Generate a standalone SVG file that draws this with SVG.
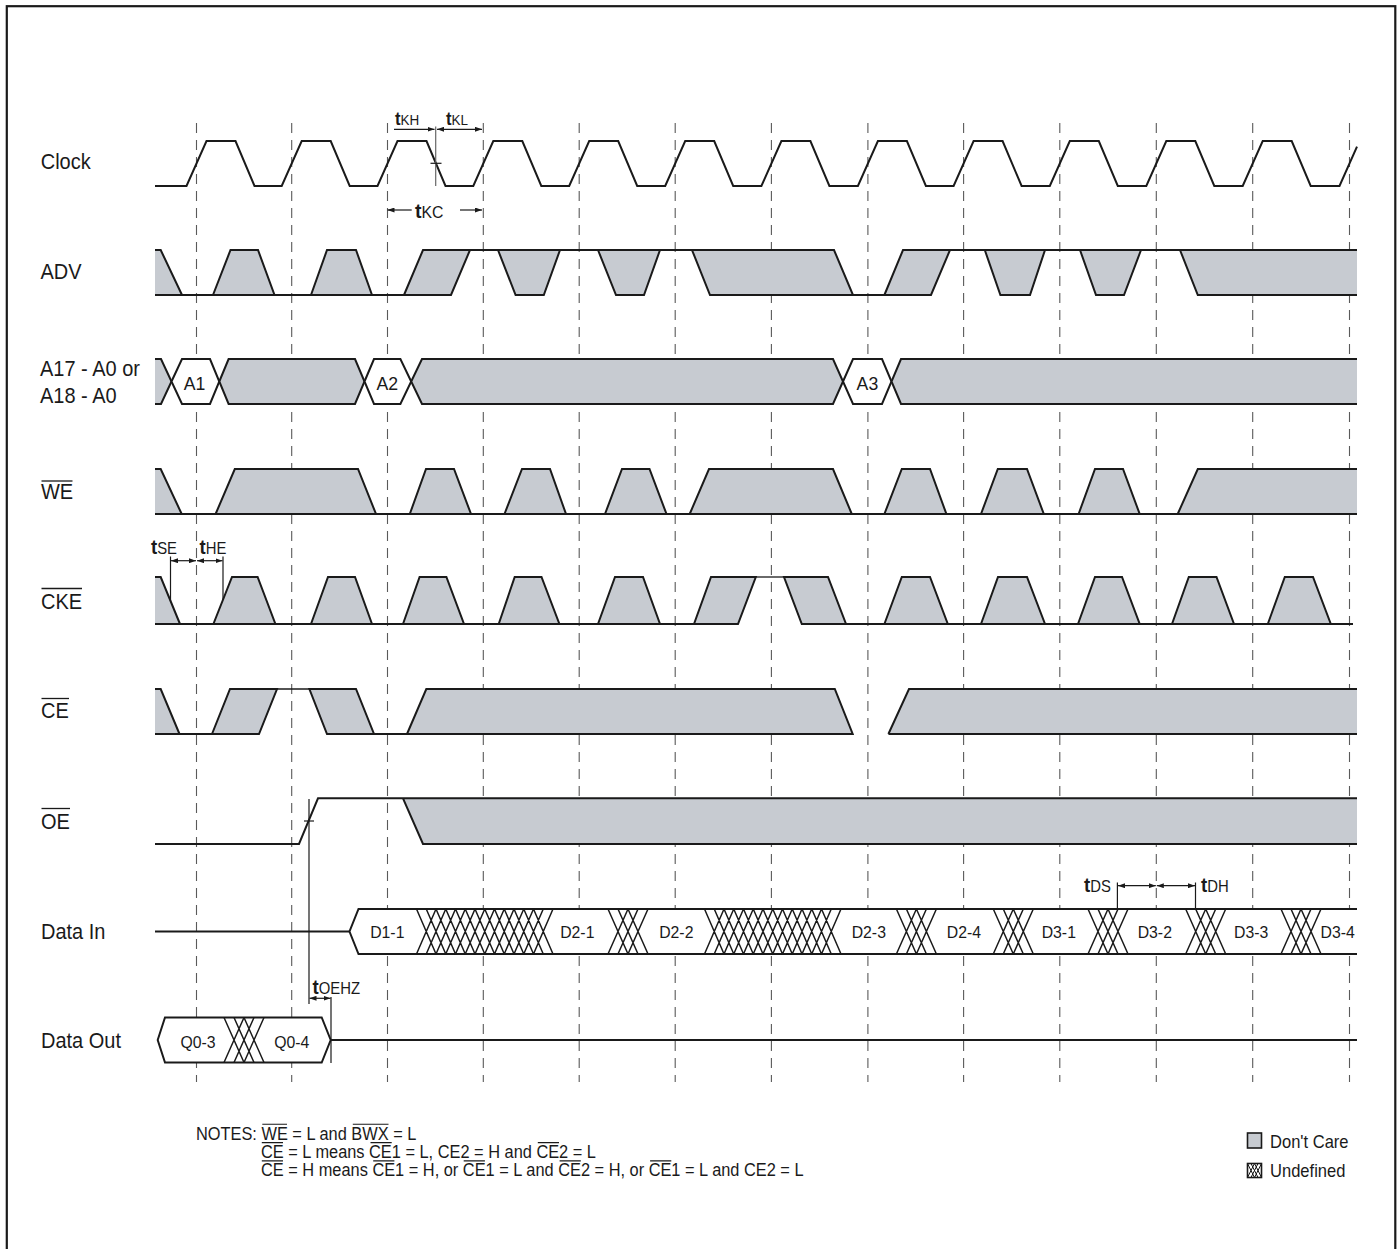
<svg xmlns="http://www.w3.org/2000/svg" width="1399" height="1249" viewBox="0 0 1399 1249">
<style>
.w{fill:none;stroke:#1a1a1a;stroke-width:2}
.wt{fill:none;stroke:#1a1a1a;stroke-width:1.3}
.g{fill:#c7cbd1;stroke:#1a1a1a;stroke-width:2}
.gf{fill:#c7cbd1;stroke:none}
.h{fill:#fff;stroke:#1a1a1a;stroke-width:2}
.x{fill:none;stroke:#1a1a1a;stroke-width:1.5}
.d{stroke:#5a5a5a;stroke-width:1.1;stroke-dasharray:10 7}
.a{stroke:#1a1a1a;stroke-width:1.2;fill:none}
.ag{stroke:#666;stroke-width:1.2;fill:none}
.ad{stroke:#1a1a1a;stroke-width:1.2;fill:none;marker-start:url(#ah);marker-end:url(#ah)}
.ae{stroke:#1a1a1a;stroke-width:1.2;fill:none;marker-end:url(#ah)}
.ol{stroke:#1a1a1a;stroke-width:1.3;fill:none}
.oln{stroke:#1a1a1a;stroke-width:1.1;fill:none}
text{font-family:"Liberation Sans",Arial,Helvetica,sans-serif;fill:#1a1a1a}
.lbl{font-size:21.5px}
.cell{font-size:17px;text-anchor:middle}
.alab{font-size:19px;text-anchor:middle}
.tb{font-weight:bold;font-size:20px}
.ts{font-size:16px}
.tbs{font-weight:bold;font-size:18px}
.tss{font-size:14.5px}
.tbl{font-weight:bold;font-size:21px}
.tsl{font-size:17px}
.note{font-size:17.5px}
.leg{font-size:18px}
</style>
<defs>
<marker id="ah" viewBox="0 0 7 5" refX="7" refY="2.5" markerWidth="7" markerHeight="5" orient="auto-start-reverse" markerUnits="userSpaceOnUse"><path d="M0,0 L7,2.5 L0,5 z" fill="#1a1a1a"/></marker>
<path id="hs" class="x" d="M0,0L20,45M10,0L30,45M20,0L40,45M0,45L20,0M10,45L30,0M20,45L40,0"/>
<path id="hl" class="x" d="M0,0L19.5,45M9.75,0L29.25,45M19.5,0L39,45M29.25,0L48.75,45M39,0L58.5,45M48.75,0L68.25,45M58.5,0L78,45M68.25,0L87.75,45M78,0L97.5,45M87.75,0L107.25,45M97.5,0L117,45M107.25,0L126.75,45M117,0L136.5,45M0,45L19.5,0M9.75,45L29.25,0M19.5,45L39,0M29.25,45L48.75,0M39,45L58.5,0M48.75,45L68.25,0M58.5,45L78,0M68.25,45L87.75,0M78,45L97.5,0M87.75,45L107.25,0M97.5,45L117,0M107.25,45L126.75,0M117,45L136.5,0"/>
</defs>
<rect width="1399" height="1249" fill="#fff"/>
<rect x="6.8" y="6.2" width="1388.5" height="1300" fill="none" stroke="#1a1a1a" stroke-width="2.2"/>

<g id="gridlines">
<line class="d" x1="196.5" y1="123" x2="196.5" y2="1082"/>
<line class="d" x1="291.7" y1="123" x2="291.7" y2="1082"/>
<line class="d" x1="387.5" y1="123" x2="387.5" y2="1082"/>
<line class="d" x1="483.3" y1="123" x2="483.3" y2="1082"/>
<line class="d" x1="579.2" y1="123" x2="579.2" y2="1082"/>
<line class="d" x1="675.2" y1="123" x2="675.2" y2="1082"/>
<line class="d" x1="771.4" y1="123" x2="771.4" y2="1082"/>
<line class="d" x1="867.9" y1="123" x2="867.9" y2="1082"/>
<line class="d" x1="963.6" y1="123" x2="963.6" y2="1082"/>
<line class="d" x1="1059.8" y1="123" x2="1059.8" y2="1082"/>
<line class="d" x1="1156.3" y1="123" x2="1156.3" y2="1082"/>
<line class="d" x1="1252.7" y1="123" x2="1252.7" y2="1082"/>
<line class="d" x1="1349.5" y1="123" x2="1349.5" y2="1082"/>
</g>

<g id="clock">
<text class="lbl" transform="translate(40.7,168.5) scale(0.93,1)">Clock</text>
<path class="w" d="M155,186H186.5L206.5,141H235.5L254.5,186H281.7L301.7,141H330.7L349.7,186H377.5L397.5,141H426.5L445.5,186H473.3L493.3,141H522.3L541.3,186H569.2L589.2,141H618.2L637.2,186H665.2L685.2,141H714.2L733.2,186H761.4L781.4,141H810.4L829.4,186H857.9L877.9,141H906.9L925.9,186H953.6L973.6,141H1002.6L1021.6,186H1049.8L1069.8,141H1098.8L1117.8,186H1146.3L1166.3,141H1195.3L1214.3,186H1242.7L1262.7,141H1291.7L1310.7,186H1339.5L1357,146.6"/>
</g>

<g id="adv">
<text class="lbl" transform="translate(40.5,279) scale(0.93,1)">ADV</text>
<polygon class="gf" points="155,250 160.7,250 182,295 155,295"/>
<polyline class="w" points="155,250 160.7,250 182,295"/>
<polygon class="g" points="213,295 230.5,250 258,250 274.5,295"/>
<polygon class="g" points="311,295 327,250 356,250 372,295"/>
<polygon class="g" points="404,295 423,250 470,250 451,295"/>
<polygon class="g" points="498,250 515.6,295 543.8,295 560,250"/>
<polygon class="g" points="598,250 616,295 644,295 660,250"/>
<polygon class="g" points="692,250 834,250 853,295 710,295"/>
<polygon class="g" points="884.4,295 903,250 950,250 931,295"/>
<polygon class="g" points="984.8,250 1000.4,295 1030,295 1045,250"/>
<polygon class="g" points="1080,250 1096,295 1124,295 1141,250"/>
<polygon class="gf" points="1180,250 1197.8,295 1357,295 1357,250"/>
<path class="w" d="M155,295H451M423,250H834M903,250H1357M710,295H931M1180,250L1197.8,295H1357"/>
</g>

<g id="address">
<text class="lbl" transform="translate(40,375.5) scale(0.93,1)">A17 - A0 or</text>
<text class="lbl" transform="translate(40,403) scale(0.93,1)">A18 - A0</text>
<polygon class="gf" points="155,359 161,359 171.5,381.5 161,404 155,404"/>
<polyline class="w" points="155,359 161,359 171.5,381.5 161,404 155,404"/>
<polygon class="h" points="171.5,381.5 182,359 210,359 219.3,381.5 210,404 182,404"/>
<polygon class="g" points="219.3,381.5 228.6,359 355,359 364.5,381.5 355,404 228.6,404"/>
<polygon class="h" points="364.5,381.5 374,359 400.4,359 411.2,381.5 400.4,404 374,404"/>
<polygon class="g" points="411.2,381.5 422,359 833,359 843,381.5 833,404 422,404"/>
<polygon class="h" points="843,381.5 853,359 882,359 891.5,381.5 882,404 853,404"/>
<polygon class="gf" points="891.5,381.5 901,359 1357,359 1357,404 901,404"/>
<polyline class="w" points="1357,359 901,359 891.5,381.5 901,404 1357,404"/>
<text class="alab" transform="translate(194.6,390) scale(0.93,1)">A1</text>
<text class="alab" transform="translate(387.3,390) scale(0.93,1)">A2</text>
<text class="alab" transform="translate(867.4,390) scale(0.93,1)">A3</text>
</g>

<g id="we">
<text class="lbl" transform="translate(41,499) scale(0.93,1)">WE</text>
<line class="ol" x1="41.5" y1="481" x2="72.5" y2="481"/>
<polygon class="gf" points="155,469 160.7,469 181.7,514 155,514"/>
<polyline class="w" points="155,469 160.7,469 181.7,514"/>
<polygon class="g" points="215.6,514 234.8,469 358,469 376,514"/>
<polygon class="g" points="409.8,514 426,469 454,469 471,514"/>
<polygon class="g" points="504.5,514 522,469 550,469 566,514"/>
<polygon class="g" points="605,514 622,469 649.5,469 666.5,514"/>
<polygon class="g" points="689.7,514 709,469 833,469 851.8,514"/>
<polygon class="g" points="884.4,514 901.8,469 930,469 946.4,514"/>
<polygon class="g" points="981,514 997.8,469 1027,469 1043.8,514"/>
<polygon class="g" points="1078.6,514 1095,469 1123,469 1139.7,514"/>
<polygon class="gf" points="1177.7,514 1197.8,469 1357,469 1357,514"/>
<path class="w" d="M155,514H1357M1177.7,514L1197.8,469H1357"/>
</g>

<g id="cke">
<text class="lbl" transform="translate(41,609) scale(0.93,1)">CKE</text>
<line class="ol" x1="41.5" y1="588.5" x2="82" y2="588.5"/>
<polygon class="gf" points="155,577 160.7,577 180,624 155,624"/>
<polyline class="w" points="155,577 160.7,577 180,624"/>
<polygon class="g" points="213.4,624 232,577 257.6,577 275.4,624"/>
<polygon class="g" points="311,624 328,577 355,577 372,624"/>
<polygon class="g" points="403,624 419.6,577 446.4,577 464,624"/>
<polygon class="g" points="498.7,624 514.7,577 541.5,577 559.4,624"/>
<polygon class="g" points="598,624 615,577 643,577 660,624"/>
<polygon class="g" points="694,624 711,577 755.8,577 738,624"/>
<polygon class="g" points="784,577 828,577 846,624 801.8,624"/>
<polygon class="g" points="884.4,624 901.8,577 930,577 947.8,624"/>
<polygon class="g" points="981,624 998,577 1027,577 1045,624"/>
<polygon class="g" points="1078,624 1095,577 1122,577 1139.7,624"/>
<polygon class="g" points="1172,624 1188.8,577 1216.5,577 1234,624"/>
<polygon class="g" points="1267.8,624 1284.8,577 1313,577 1330.8,624"/>
<path class="w" d="M155,624H738M801.8,624H1353"/>
<path class="wt" d="M755.8,577H784"/>
</g>

<g id="ce">
<text class="lbl" transform="translate(41,718) scale(0.93,1)">CE</text>
<line class="ol" x1="41.5" y1="698.5" x2="69" y2="698.5"/>
<polygon class="gf" points="155,689 160.7,689 179.5,734 155,734"/>
<polyline class="w" points="155,689 160.7,689 179.5,734"/>
<polygon class="g" points="212,734 230,689 277,689 259,734"/>
<polygon class="g" points="309.4,689 356,689 374,734 327,734"/>
<polygon class="g" points="407,734 426.3,689 834.8,689 852.7,734"/>
<polygon class="gf" points="888.4,734 909,689 1357,689 1357,734"/>
<path class="w" d="M155,734H259M327,734H852.7M888.4,734H1357M888.4,734L909,689H1357"/>
<path class="wt" d="M277,689H309.4"/>
</g>

<g id="oe">
<text class="lbl" transform="translate(41,829) scale(0.93,1)">OE</text>
<line class="ol" x1="41.5" y1="808.5" x2="70" y2="808.5"/>
<polygon class="gf" points="403,798.3 423,844 1357,844 1357,798.3"/>
<path class="w" d="M155,844H299L318,798.3H1357M403,798.3L423,844H1357"/>
</g>

<g id="datain">
<text class="lbl" transform="translate(41,939) scale(0.93,1)">Data In</text>
<path class="w" d="M155,931.5H349.5"/>
<polygon points="349.5,931.5 358.5,909 1357,909 1357,954 358.5,954" fill="#fff"/>
<polyline class="w" points="1357,909 358.5,909 349.5,931.5 358.5,954 1357,954"/>
<use href="#hl" x="416.5" y="909"/>
<use href="#hs" x="608" y="909"/>
<use href="#hl" x="704.5" y="909"/>
<use href="#hs" x="896.4" y="909"/>
<use href="#hs" x="993.3" y="909"/>
<use href="#hs" x="1088" y="909"/>
<use href="#hs" x="1185.7" y="909"/>
<use href="#hs" x="1281" y="909"/>
<text class="cell" transform="translate(387.3,938.3) scale(0.93,1)">D1-1</text>
<text class="cell" transform="translate(577.3,938.3) scale(0.93,1)">D2-1</text>
<text class="cell" transform="translate(676.3,938.3) scale(0.93,1)">D2-2</text>
<text class="cell" transform="translate(868.8,938.3) scale(0.93,1)">D2-3</text>
<text class="cell" transform="translate(964,938.3) scale(0.93,1)">D2-4</text>
<text class="cell" transform="translate(1058.8,938.3) scale(0.93,1)">D3-1</text>
<text class="cell" transform="translate(1154.8,938.3) scale(0.93,1)">D3-2</text>
<text class="cell" transform="translate(1251.2,938.3) scale(0.93,1)">D3-3</text>
<text class="cell" transform="translate(1337.7,938.3) scale(0.93,1)">D3-4</text>
</g>

<g id="dataout">
<text class="lbl" transform="translate(41,1048) scale(0.93,1)">Data Out</text>
<polygon class="h" points="157.7,1040 165,1017.5 321.7,1017.5 330.7,1040 321.7,1062.5 165,1062.5"/>
<use href="#hs" x="224" y="1017.5"/>
<path class="w" d="M330.7,1040H1357"/>
<text class="cell" transform="translate(198,1048.3) scale(0.93,1)">Q0-3</text>
<text class="cell" transform="translate(291.7,1048.3) scale(0.93,1)">Q0-4</text>
</g>

<g id="connectors">
<line class="ag" x1="435.7" y1="126.5" x2="435.7" y2="186"/>
<line class="a" x1="430.5" y1="163.3" x2="441.5" y2="163.3"/>
<line class="ae" x1="394" y1="129.3" x2="434.5" y2="129.3"/>
<line class="ad" x1="437" y1="129.3" x2="482" y2="129.3"/>
<line class="ae" x1="411.7" y1="210" x2="387.5" y2="210"/>
<line class="ae" x1="460" y1="210" x2="482" y2="210"/>
<line class="a" x1="170.5" y1="556.5" x2="170.5" y2="601"/>
<line class="a" x1="223" y1="556.5" x2="223" y2="600"/>
<line class="ad" x1="171" y1="560.7" x2="196" y2="560.7"/>
<line class="ad" x1="197" y1="560.7" x2="222.5" y2="560.7"/>
<line class="a" x1="1117.4" y1="882.5" x2="1117.4" y2="909"/>
<line class="a" x1="1195.5" y1="882.5" x2="1195.5" y2="909"/>
<line class="ad" x1="1118" y1="885.7" x2="1155.8" y2="885.7"/>
<line class="ad" x1="1156.8" y1="885.7" x2="1195" y2="885.7"/>
<line class="a" x1="309" y1="799" x2="309" y2="1004"/>
<line class="a" x1="304" y1="821" x2="314" y2="821"/>
<line class="a" x1="331" y1="997" x2="331" y2="1063"/>
<line class="ad" x1="309.5" y1="998.3" x2="330.5" y2="998.3"/>
</g>

<g id="timing-labels">
<text transform="translate(395,125) scale(0.93,1)"><tspan class="tbs">t</tspan><tspan class="tss">KH</tspan></text>
<text transform="translate(446,125) scale(0.93,1)"><tspan class="tbs">t</tspan><tspan class="tss">KL</tspan></text>
<text transform="translate(415,218) scale(0.93,1)"><tspan class="tbl">t</tspan><tspan class="tsl">KC</tspan></text>
<text transform="translate(151,554) scale(0.93,1)"><tspan class="tb">t</tspan><tspan class="ts">SE</tspan></text>
<text transform="translate(199.6,554) scale(0.93,1)"><tspan class="tb">t</tspan><tspan class="ts">HE</tspan></text>
<text transform="translate(1084,891.5) scale(0.93,1)"><tspan class="tb">t</tspan><tspan class="ts">DS</tspan></text>
<text transform="translate(1201,891.5) scale(0.93,1)"><tspan class="tb">t</tspan><tspan class="ts">DH</tspan></text>
<text transform="translate(312.5,994) scale(0.93,1)"><tspan class="tb">t</tspan><tspan class="ts">OEHZ</tspan></text>
</g>

<g id="notes">
<text class="note" transform="translate(196,1139.5) scale(0.935,1)">NOTES: WE = L and BWX = L</text>
<text class="note" transform="translate(261,1157.5) scale(0.935,1)">CE = L means CE1 = L, CE2 = H and CE2 = L</text>
<text class="note" transform="translate(261,1175.5) scale(0.935,1)">CE = H means CE1 = H, or CE1 = L and CE2 = H, or CE1 = L and CE2 = L</text>
<path class="oln" d="M262.3,1124.3H287M352.8,1124.3H388.5M261.8,1142.6H283M370.5,1142.6H391.7M537.8,1142.6H559M261.8,1160.9H283M373.2,1160.9H394.4M463.7,1160.9H484.9M559.6,1160.9H580.8M650.1,1160.9H671.3"/>
</g>

<g id="legend">
<rect x="1247.5" y="1133" width="14" height="15" fill="#c7cbd1" stroke="#1a1a1a" stroke-width="1.6"/>
<text class="leg" transform="translate(1270,1147.7) scale(0.92,1)">Don't Care</text>
<rect x="1247.5" y="1163.5" width="14" height="14" fill="#fff" stroke="#1a1a1a" stroke-width="1.6"/>
<path d="M1247.5,1163.5L1254.5,1177.5M1251,1163.5L1258,1177.5M1254.5,1163.5L1261.5,1177.5M1247.5,1177.5L1254.5,1163.5M1251,1177.5L1258,1163.5M1254.5,1177.5L1261.5,1163.5" fill="none" stroke="#1a1a1a" stroke-width="1"/>
<text class="leg" transform="translate(1270,1177) scale(0.92,1)">Undefined</text>
</g>
</svg>
